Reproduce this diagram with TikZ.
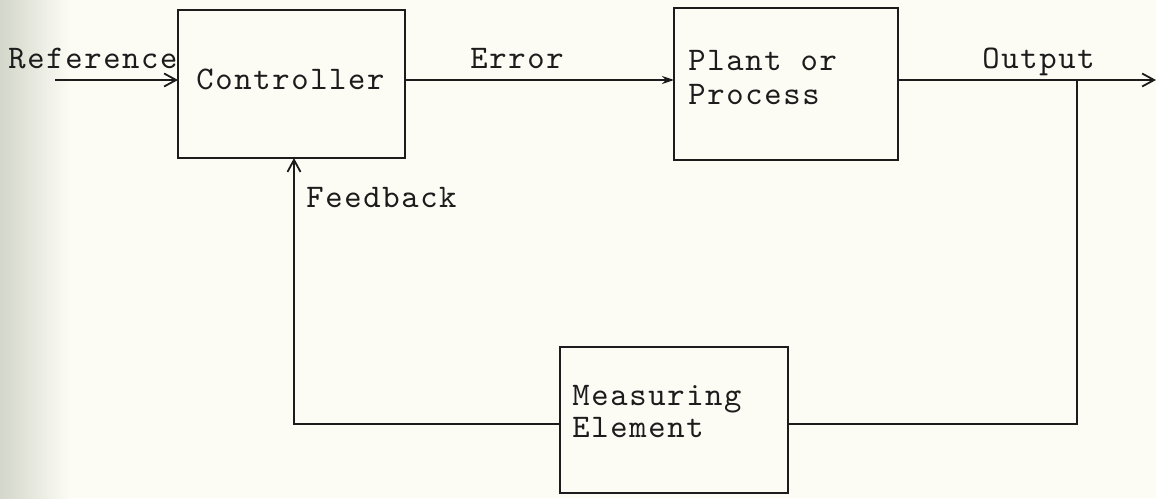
\documentclass[tikz,border=0pt]{standalone}
\usepackage{fontspec}
\newfontfamily\typer{lmmono10-regular.otf}[LetterSpace=5]
\usetikzlibrary{arrows.meta}
\definecolor{paper}{HTML}{FCFCF5}
\definecolor{scanedge}{HTML}{D3D6CA}
\definecolor{ink}{HTML}{1C1C1C}
\tikzset{
  blockbox/.style={draw=ink, line width=0.9pt, inner sep=0pt, outer sep=0pt, anchor=north west},
  lbl/.style={text=ink, inner sep=0pt, anchor=base west, font=\typer\fontsize{16.5pt}{20pt}\selectfont},
  wire/.style={draw=ink, line width=0.9pt},
  barb/.style={wire, -{Straight Barb[length=6pt,width=6.5pt,line width=0.9pt]}},
  solidtip/.style={wire, -{Stealth[length=6pt,width=4pt]}}
}
\begin{document}
\begin{tikzpicture}[x=0.5pt,y=-0.5pt]
  % paper and the darker scanned edge on the left
  \fill[paper] (0,0) rectangle (1156,498);
  \shade[left color=scanedge, right color=paper] (0,0) rectangle (70,498);
  \useasboundingbox (0,0) rectangle (1156,498);

  % blocks
  \node[blockbox, minimum width=113.5pt, minimum height=74pt] (ctrl) at (178,10) {};
  \node[blockbox, minimum width=112pt, minimum height=76pt] (plant) at (674,8) {};
  \node[blockbox, minimum width=114pt, minimum height=73pt] (meas) at (560,347) {};

  % block texts
  \node[lbl] (ctrltxt) at (196,89) {Controller};
  \node[lbl] (planttxt) at (688,70) {Plant or};
  \node[lbl] (proctxt) at (688,104) {Process};
  \node[lbl] (meastxt) at (572,405) {Measuring};
  \node[lbl] (elemtxt) at (572,437) {Element};

  % signal labels
  \node[lbl] (reflbl) at (8,68) {Reference};
  \node[lbl] (errlbl) at (470,68) {Error};
  \node[lbl] (outlbl) at (982,68) {Output};
  \node[lbl] (fblbl) at (306,207) {Feedback};

  % free ends and corners of the loop
  \coordinate (refin) at (55,80);
  \coordinate (outend) at (1156,80);
  \coordinate (tap) at (1077,80);
  \coordinate (ret) at (294,424);

  % forward path
  \draw[barb] (refin) -- (refin -| ctrl.west);
  \draw[solidtip] (ctrl.east |- refin) -- (plant.west |- refin);
  \draw[barb] (plant.east |- refin) -- (outend);

  % feedback path
  \draw[wire] (tap) |- (meas.east |- ret);
  \draw[barb] (meas.west |- ret) -- (ret) -- (ret |- ctrl.south);
\end{tikzpicture}
\end{document}
